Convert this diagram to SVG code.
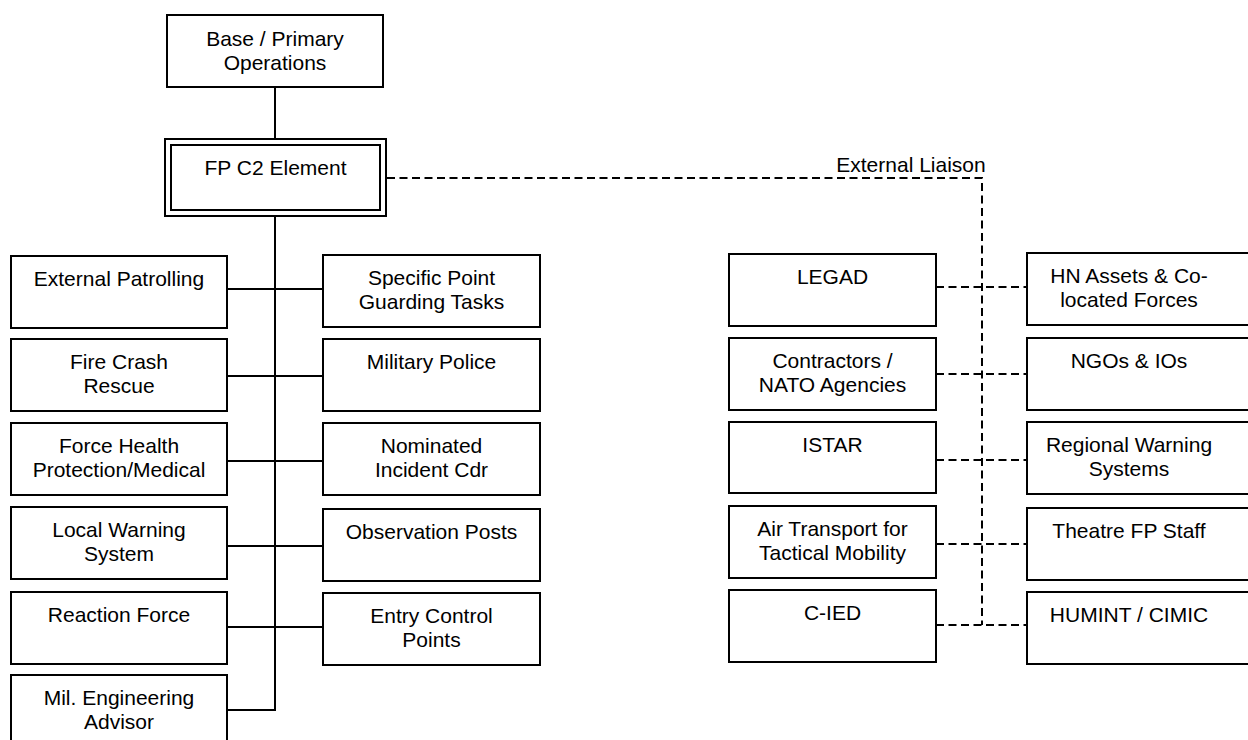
<svg xmlns="http://www.w3.org/2000/svg" width="1248" height="740" viewBox="0 0 1248 740">
  <style>
    .box { fill: #ffffff; stroke: #000000; stroke-width: 2; }
    .lbl { font-family: "Liberation Sans", Arial, sans-serif; font-size: 21px; fill: #000000; text-anchor: middle; }
    .solid { fill: none; stroke: #000000; stroke-width: 2; }
    .dash { fill: none; stroke: #000000; stroke-width: 2; stroke-dasharray: 8 4.5; }
  </style>
  <rect width="1248" height="740" fill="#ffffff"/>

  <!-- connectors -->
  <g id="connectors">
    <line class="solid" x1="275" y1="87" x2="275" y2="139"/>
    <polyline class="solid" points="275,216 275,710 227,710"/>
    <line class="solid" x1="227" y1="289" x2="323" y2="289"/>
    <line class="solid" x1="227" y1="376" x2="323" y2="376"/>
    <line class="solid" x1="227" y1="461" x2="323" y2="461"/>
    <line class="solid" x1="227" y1="546" x2="323" y2="546"/>
    <line class="solid" x1="227" y1="627" x2="323" y2="627"/>
    <!-- external liaison -->
    <polyline class="dash" points="387,178 982,178 982,625"/>
    <line class="dash" x1="936" y1="287" x2="1027" y2="287"/>
    <line class="dash" x1="936" y1="374" x2="1027" y2="374"/>
    <line class="dash" x1="936" y1="460" x2="1027" y2="460"/>
    <line class="dash" x1="936" y1="544" x2="1027" y2="544"/>
    <line class="dash" x1="936" y1="625" x2="1027" y2="625"/>
    <text class="lbl" x="911" y="172">External Liaison</text>
  </g>

  <!-- command nodes -->
  <g id="base">
    <rect class="box" x="167" y="15" width="216" height="72"/>
    <text class="lbl" x="275" y="46">Base / Primary</text>
    <text class="lbl" x="275" y="70">Operations</text>
  </g>
  <g id="fp-c2">
    <rect class="box" x="165" y="139" width="221" height="77"/>
    <rect class="box" x="171" y="145" width="209" height="65"/>
    <text class="lbl" x="275.5" y="175">FP C2 Element</text>
  </g>

  <!-- left column -->
  <g id="external-patrolling">
    <rect class="box" x="11" y="256" width="216" height="72"/>
    <text class="lbl" x="119" y="286">External Patrolling</text>
  </g>
  <g id="fire-crash-rescue">
    <rect class="box" x="11" y="339" width="216" height="72"/>
    <text class="lbl" x="119" y="369">Fire Crash</text>
    <text class="lbl" x="119" y="393">Rescue</text>
  </g>
  <g id="force-health">
    <rect class="box" x="11" y="423" width="216" height="72"/>
    <text class="lbl" x="119" y="453">Force Health</text>
    <text class="lbl" x="119" y="477">Protection/Medical</text>
  </g>
  <g id="local-warning">
    <rect class="box" x="11" y="507" width="216" height="72"/>
    <text class="lbl" x="119" y="537">Local Warning</text>
    <text class="lbl" x="119" y="561">System</text>
  </g>
  <g id="reaction-force">
    <rect class="box" x="11" y="592" width="216" height="72"/>
    <text class="lbl" x="119" y="622">Reaction Force</text>
  </g>
  <g id="mil-engineering">
    <rect class="box" x="11" y="675" width="216" height="80"/>
    <text class="lbl" x="119" y="705">Mil. Engineering</text>
    <text class="lbl" x="119" y="729">Advisor</text>
  </g>

  <!-- second column -->
  <g id="specific-point">
    <rect class="box" x="323" y="255" width="217" height="72"/>
    <text class="lbl" x="431.5" y="285">Specific Point</text>
    <text class="lbl" x="431.5" y="309">Guarding Tasks</text>
  </g>
  <g id="military-police">
    <rect class="box" x="323" y="339" width="217" height="72"/>
    <text class="lbl" x="431.5" y="369">Military Police</text>
  </g>
  <g id="nominated-incident">
    <rect class="box" x="323" y="423" width="217" height="72"/>
    <text class="lbl" x="431.5" y="453">Nominated</text>
    <text class="lbl" x="431.5" y="477">Incident Cdr</text>
  </g>
  <g id="observation-posts">
    <rect class="box" x="323" y="509" width="217" height="72"/>
    <text class="lbl" x="431.5" y="539">Observation Posts</text>
  </g>
  <g id="entry-control">
    <rect class="box" x="323" y="593" width="217" height="72"/>
    <text class="lbl" x="431.5" y="623">Entry Control</text>
    <text class="lbl" x="431.5" y="647">Points</text>
  </g>

  <!-- liaison, inner column -->
  <g id="legad">
    <rect class="box" x="729" y="254" width="207" height="72"/>
    <text class="lbl" x="832.5" y="284">LEGAD</text>
  </g>
  <g id="contractors">
    <rect class="box" x="729" y="338" width="207" height="72"/>
    <text class="lbl" x="832.5" y="368">Contractors /</text>
    <text class="lbl" x="832.5" y="392">NATO Agencies</text>
  </g>
  <g id="istar">
    <rect class="box" x="729" y="422" width="207" height="71"/>
    <text class="lbl" x="832.5" y="452">ISTAR</text>
  </g>
  <g id="air-transport">
    <rect class="box" x="729" y="506" width="207" height="72"/>
    <text class="lbl" x="832.5" y="536">Air Transport for</text>
    <text class="lbl" x="832.5" y="560">Tactical Mobility</text>
  </g>
  <g id="c-ied">
    <rect class="box" x="729" y="590" width="207" height="72"/>
    <text class="lbl" x="832.5" y="620">C-IED</text>
  </g>

  <!-- liaison, outer column -->
  <g id="hn-assets">
    <rect class="box" x="1027" y="253" width="226" height="72"/>
    <text class="lbl" x="1129" y="283">HN Assets &amp; Co-</text>
    <text class="lbl" x="1129" y="307">located Forces</text>
  </g>
  <g id="ngos">
    <rect class="box" x="1027" y="338" width="226" height="72"/>
    <text class="lbl" x="1129" y="368">NGOs &amp; IOs</text>
  </g>
  <g id="regional-warning">
    <rect class="box" x="1027" y="422" width="226" height="72"/>
    <text class="lbl" x="1129" y="452">Regional Warning</text>
    <text class="lbl" x="1129" y="476">Systems</text>
  </g>
  <g id="theatre-fp">
    <rect class="box" x="1027" y="508" width="226" height="72"/>
    <text class="lbl" x="1129" y="538">Theatre FP Staff</text>
  </g>
  <g id="humint">
    <rect class="box" x="1027" y="592" width="226" height="72"/>
    <text class="lbl" x="1129" y="622">HUMINT / CIMIC</text>
  </g>
</svg>
